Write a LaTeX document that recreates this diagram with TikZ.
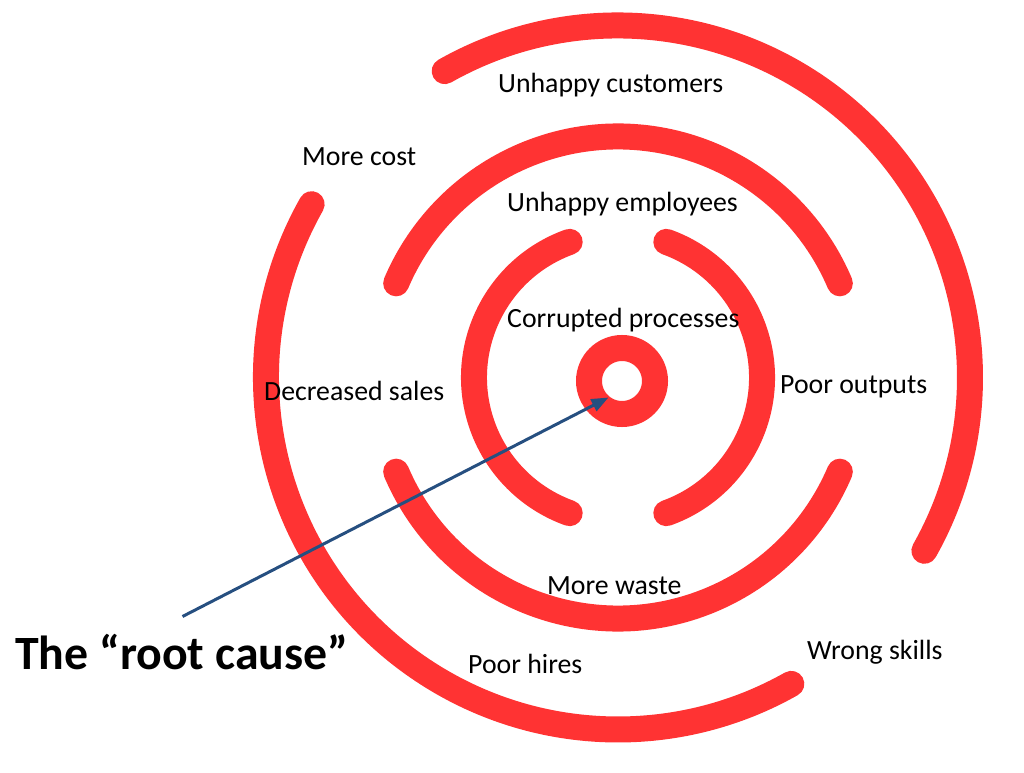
\documentclass[tikz,border=0pt]{standalone}
\usepackage{fontspec}
\setmainfont{Carlito}
\usetikzlibrary{arrows.meta,calc}
\definecolor{ringred}{RGB}{255,51,51}
\definecolor{arrowblue}{RGB}{38,79,128}
\begin{document}
\begin{tikzpicture}[x=1pt,y=1pt,
  ring/.style={draw=ringred,line width=26pt,line cap=round},
  lbl/.style={anchor=base west,inner sep=0pt,font=\fontsize{27.8}{33}\selectfont},
  bigl/.style={anchor=base west,inner sep=0pt,font=\bfseries\fontsize{47.8}{57}\selectfont},
  pointer/.style={draw=arrowblue,line width=3pt,-{Triangle[length=17pt,width=13pt]}}]
\useasboundingbox (0,0) rectangle (1024,772);
\coordinate (C) at (618,394.5);
\coordinate (C1) at (622,391);
% innermost ring
\draw[ring] (C1) circle[radius=33];
% ring 2
\draw[ring] ($(C)+(109.6:144)$) arc[start angle=109.6,end angle=250.4,radius=144];
\draw[ring] ($(C)+(-70.4:144)$) arc[start angle=-70.4,end angle=70.4,radius=144];
% ring 3
\draw[ring] ($(C)+(23:241)$) arc[start angle=23,end angle=157,radius=241];
\draw[ring] ($(C)+(203:241)$) arc[start angle=203,end angle=337,radius=241];
% ring 4
\draw[ring] ($(C)+(119.5:352)$) arc[start angle=119.5,end angle=-29.5,radius=352];
\draw[ring] ($(C)+(150.5:352)$) arc[start angle=150.5,end angle=299.5,radius=352];
% labels
\node[lbl] (uc) at (498,679) {Unhappy customers};
\node[lbl] (mc) at (302,606) {More cost};
\node[lbl] (ue) at (507,560.5) {Unhappy employees};
\node[lbl] (cp) at (507,444) {Corrupted processes};
\node[lbl] (ds) at (264,371.5) {Decreased sales};
\node[lbl] (po) at (780,379) {Poor outputs};
\node[lbl] (mw) at (547,178) {More waste};
\node[lbl] (ph) at (468,99) {Poor hires};
\node[lbl] (ws) at (807,113) {Wrong skills};
\node[bigl] (rc) at (15,103) {The “root cause”};
% arrow
\coordinate (tail) at (182.5,155.5);
\coordinate (tip) at (608.5,374.5);
\draw[pointer] (tail) -- (tip);
\end{tikzpicture}
\end{document}
